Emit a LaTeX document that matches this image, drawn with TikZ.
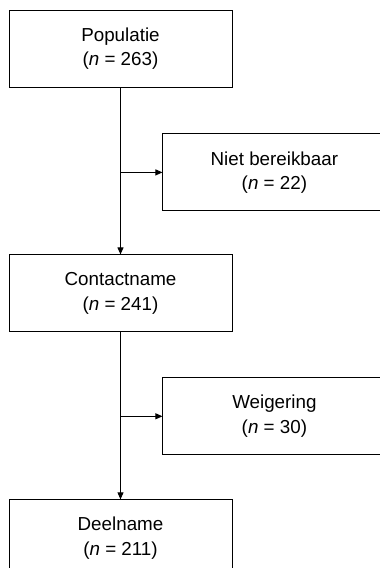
\documentclass[tikz,border=0pt]{standalone}
\usepackage{fontspec}
\setmainfont{Liberation Sans}
\usetikzlibrary{arrows.meta, positioning}

\begin{document}
\begin{tikzpicture}[
      x=1pt, y=-1pt,
      node distance=167pt,
      stage/.style={rectangle, draw, line width=0.9pt, inner sep=0pt,
        minimum width=223pt, minimum height=77pt, align=center,
        font=\fontsize{18.8}{24.5}\selectfont},
      >={Triangle[length=7pt, width=6pt]},
    ]
    \useasboundingbox (0,0) rectangle (380,568);
    \node[stage] (pop) at (120.5,48.5) {Populatie\\(\textit{n} = 263)};
    \node[stage, below right=46pt and -70pt of pop] (unreach) {Niet bereikbaar\\(\textit{n} = 22)};
    \node[stage, below=of pop] (contact) {Contactname\\(\textit{n} = 241)};
    \node[stage, below right=45pt and -70pt of contact] (refuse) {Weigering\\(\textit{n} = 30)};
    \node[stage, below=of contact] (part) {Deelname\\(\textit{n} = 211)};
    \coordinate (b1) at (pop.south |- unreach.west);
    \coordinate (b2) at (contact.south |- refuse.west);
    \draw[->, line width=0.9pt] (pop) -- (contact);
    \draw[->, line width=0.9pt] (contact) -- (part);
    \draw[->, line width=0.9pt] (b1) -- (unreach);
    \draw[->, line width=0.9pt] (b2) -- (refuse);
  \end{tikzpicture}
\end{document}
